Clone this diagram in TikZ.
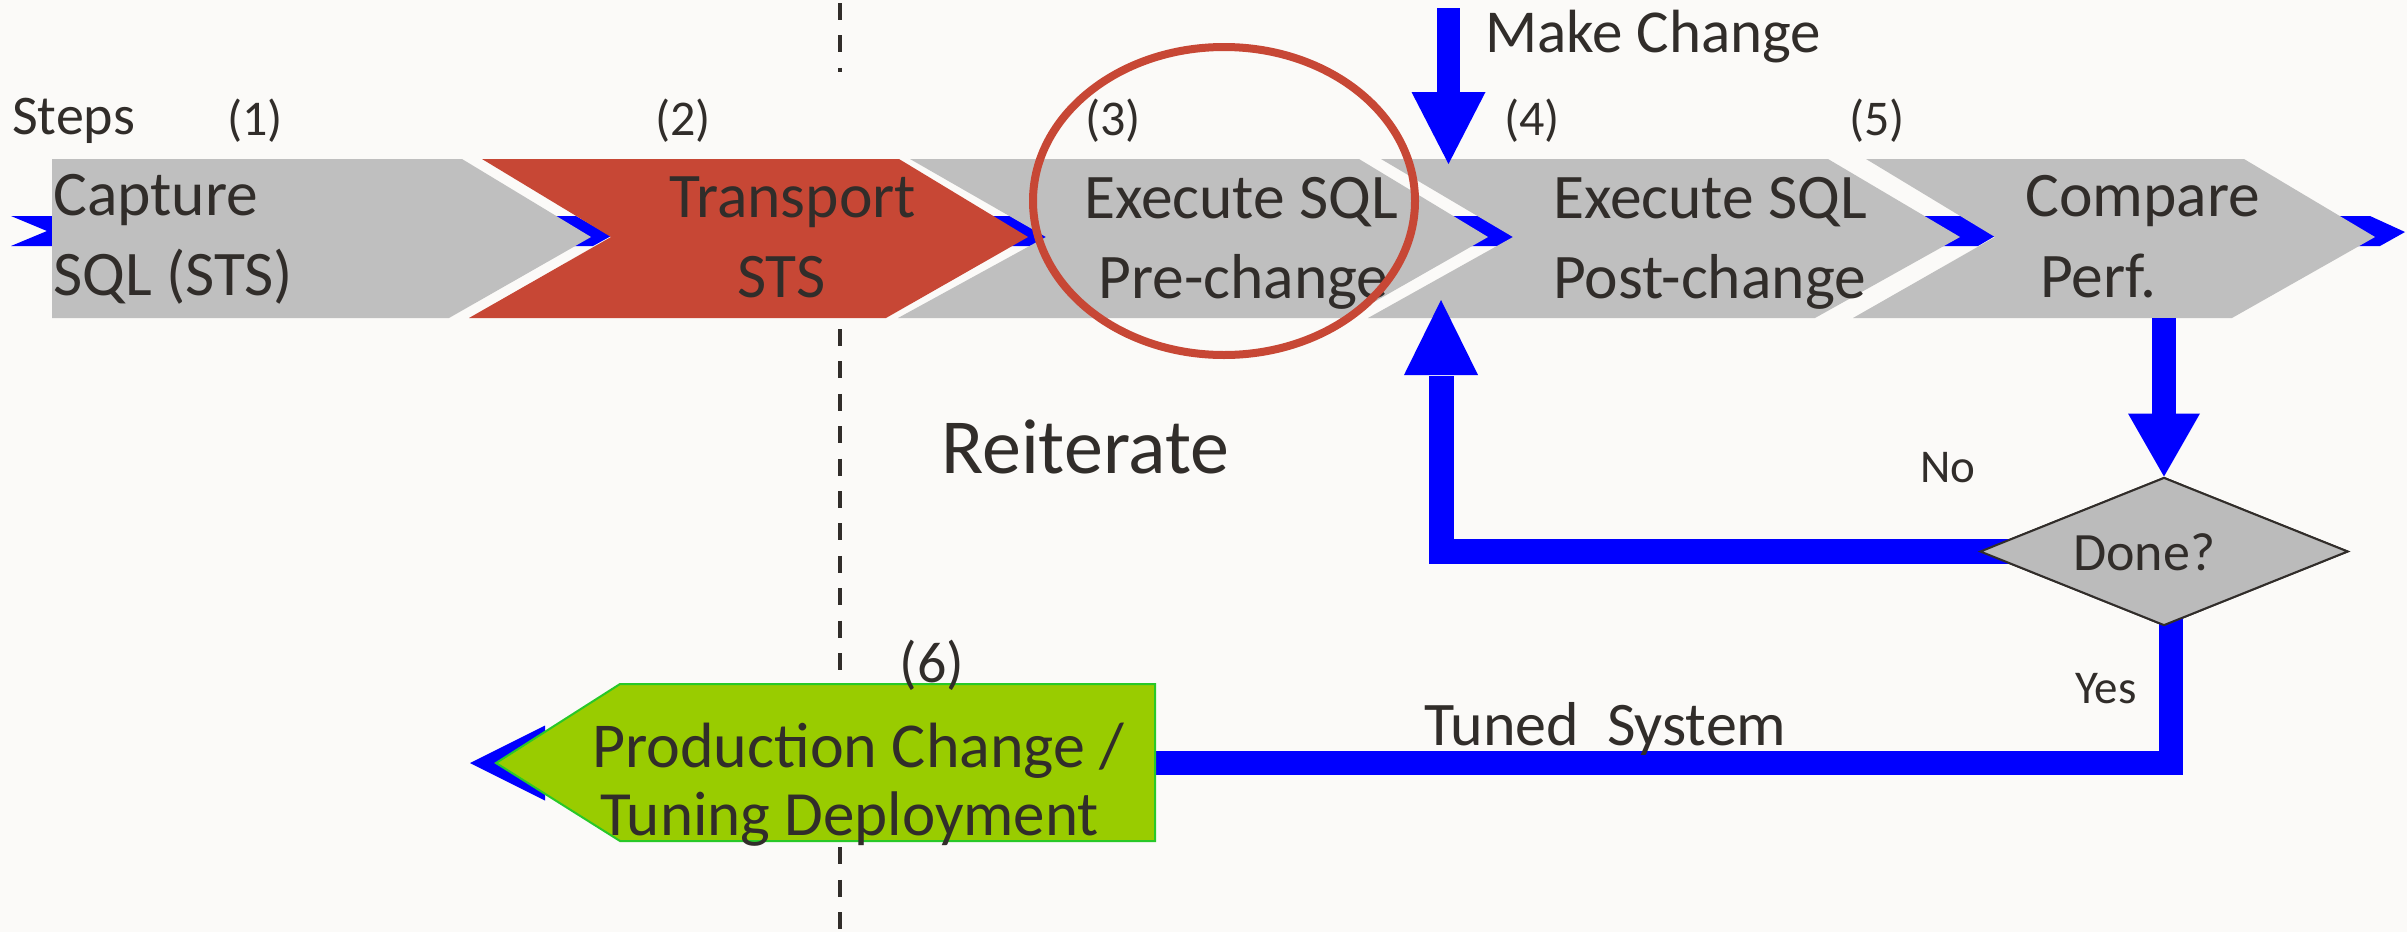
\documentclass[tikz,border=0pt]{standalone}
\usepackage{fontspec}
\setmainfont{Carlito}
\usetikzlibrary{shapes.geometric,calc}
\definecolor{bg}{RGB}{251,250,248}
\definecolor{chev}{RGB}{191,191,191}
\definecolor{ored}{RGB}{199,71,53}
\definecolor{ink}{RGB}{49,45,42}
\definecolor{lime}{RGB}{153,204,0}
\definecolor{limeedge}{RGB}{40,200,40}
\definecolor{dgray}{RGB}{187,187,187}
\definecolor{flowblue}{RGB}{0,0,255}
\newcommand\fsz[1]{\fontsize{#1}{#1}\selectfont}
\begin{document}
\begin{tikzpicture}[x=1pt,y=-1pt,
  txt/.style={inner sep=0pt, text=ink, anchor=base west},
  big/.style={txt, font=\fsz{63.5}},
  num/.style={inner sep=0pt, text=ink, anchor=base, font=\fsz{50}},
  small/.style={txt, font=\fsz{47}},
  flow/.style={draw=flowblue, line width=24pt, line cap=butt, line join=miter},
  tipfill/.style={fill=flowblue},
  greybox/.style={fill=chev},
  sep/.style={draw=ink, line width=4pt, dash pattern=on 17pt off 15.4pt}
]
% canvas
\fill[bg] (0,0) rectangle (2407,932);
\useasboundingbox (0,0) rectangle (2407,932);

% dashed separator
\coordinate (sepA) at (840,3);
\coordinate (sepB) at (840,72);
\coordinate (sepC) at (840,329);
\coordinate (sepD) at (840,932);
\draw[sep] (sepA) -- (sepB);
\draw[sep] (sepC) -- (sepD);

% blue flow running behind the step chevrons
\fill[tipfill] (11,216) -- (120,216) -- (120,246) -- (11,246) -- (47,231) -- cycle;
\fill[tipfill] (460,216) -- (576,216) -- (611,236) -- (593,246) -- (460,246) -- cycle;
\fill[tipfill] (900,216) -- (1013,216) -- (1050,237) -- (1030,246) -- (900,246) -- cycle;
\fill[tipfill] (1360,216) -- (1482,216) -- (1517,237) -- (1498,246) -- (1360,246) -- cycle;
\fill[tipfill] (1830,216) -- (1962,216) -- (1995,236) -- (1978,246) -- (1830,246) -- cycle;
\fill[tipfill] (2250,216) -- (2370,216) -- (2405,232) -- (2380,246) -- (2250,246) -- cycle;

% step chevrons
\fill[greybox] (52,159) -- (462,159) -- (591,237) -- (449,318) -- (52,318) -- cycle;
\fill[ored] (482,159) -- (899,159) -- (1028,237) -- (886,318) -- (469,318) -- (611,237) -- cycle;
\fill[greybox] (910,159) -- (1359,159) -- (1488,237) -- (1346,318) -- (898,318) -- (1046,237) -- cycle;
\fill[greybox] (1381,159) -- (1828,159) -- (1960,237) -- (1815,318) -- (1368,318) -- (1513,237) -- cycle;
\fill[greybox] (1866,159) -- (2244,159) -- (2375,237) -- (2232,318) -- (1853,318) -- (1995,237) -- cycle;

% named points for the connectors
\coordinate (box4top) at (1448.5,164);
\coordinate (mcstart) at (1448.5,8);
\coordinate (box4bot) at (1441,300);
\coordinate (box5bot) at (2164,318);
\coordinate (deploytip) at (470,763);

% decision
\node[diamond, draw=ink, line width=2pt, fill=dgray, minimum width=368pt,
      minimum height=148pt, inner sep=0pt] (done) at (2164,551.5) {};

% Yes branch to deployment (behind the deployment box)
\draw[flow] ($(done.south)+(7,-30)$) |- ($(deploytip)+(75,0)$);
\fill[tipfill] (deploytip) -- ++(75,-37.5) -- ++(0,75) -- cycle;

% deployment box
\fill[lime, draw=limeedge, line width=2pt] (620,684) -- (1155,684) -- (1155,841) -- (620,841) -- (496,763) -- cycle;

% No branch back to step 4
\draw[flow, line width=25pt] (done.center) -- (done.center -| box4bot) -- ($(box4bot)+(0,76)$);
\fill[tipfill] (box4bot) -- ++(-37,75) -- ++(74,0) -- cycle;

% compare -> decision
\draw[flow] (box5bot) -- ($(done.north)+(0,-60)$);
\fill[tipfill] (done.north) -- ++(-36,-63) -- ++(72,0) -- cycle;

% redraw decision on top of its connectors
\node[diamond, draw=ink, line width=2pt, fill=dgray, minimum width=368pt,
      minimum height=148pt, inner sep=0pt] at (done.center) {};

% labels
\node[txt, font=\fsz{56}] (steps) at (12,134) {Steps};
\node[num] (n1) at (255,135) {(1)};
\node[num] (n2) at (683,135) {(2)};
\node[num] (n3) at (1113,135) {(3)};
\node[num] (n4) at (1532,135) {(4)};
\node[num] (n5) at (1877,135) {(5)};
\node[num, font=\fsz{58}] (n6) at (932,682) {(6)};

\node[big] (t1a) at (53,215) {Capture};
\node[big] (t1b) at (53,295) {SQL (STS)};
\node[big] (t2a) at (669,217) {Transport};
\node[big] (t2b) at (737,297) {STS};
\node[big] (t3a) at (1084,218) {Execute SQL};
\node[big] (t3b) at (1098,298) {Pre-change};
\node[big] (t4a) at (1553,218) {Execute SQL};
\node[big] (t4b) at (1553,298) {Post-change};
\node[big] (t5a) at (2025,216) {Compare};
\node[big] (t5b) at (2040,297) {Perf.};

\node[txt, font=\fsz{61}] (mc) at (1485,52) {Make Change};
\node[txt, font=\fsz{78}] (reit) at (941,473) {Reiterate};
\node[small] (no) at (1920,482) {No};
\node[small] (yes) at (2075,703) {Yes};
\node[txt, font=\fsz{54}] (donetxt) at (2073,570) {Done?};
\node[txt, font=\fsz{62}] (tuned) at (1424,745) {Tuned\ \ System};
\node[txt, font=\fsz{64}] (t6a) at (592,767) {Production Change /};
\node[txt, font=\fsz{63}] (t6b) at (600,835) {Tuning Deployment};

% highlight round step 3
\draw[ored, line width=8pt] (1224,201) ellipse [x radius=191pt, y radius=154pt];

% make change arrow into step 4
\draw[flow, line width=23pt] (mcstart) -- ($(box4top)+(0,-68)$);
\fill[tipfill] (box4top) -- ++(-37,-72) -- ++(74,0) -- cycle;
\end{tikzpicture}
\end{document}
